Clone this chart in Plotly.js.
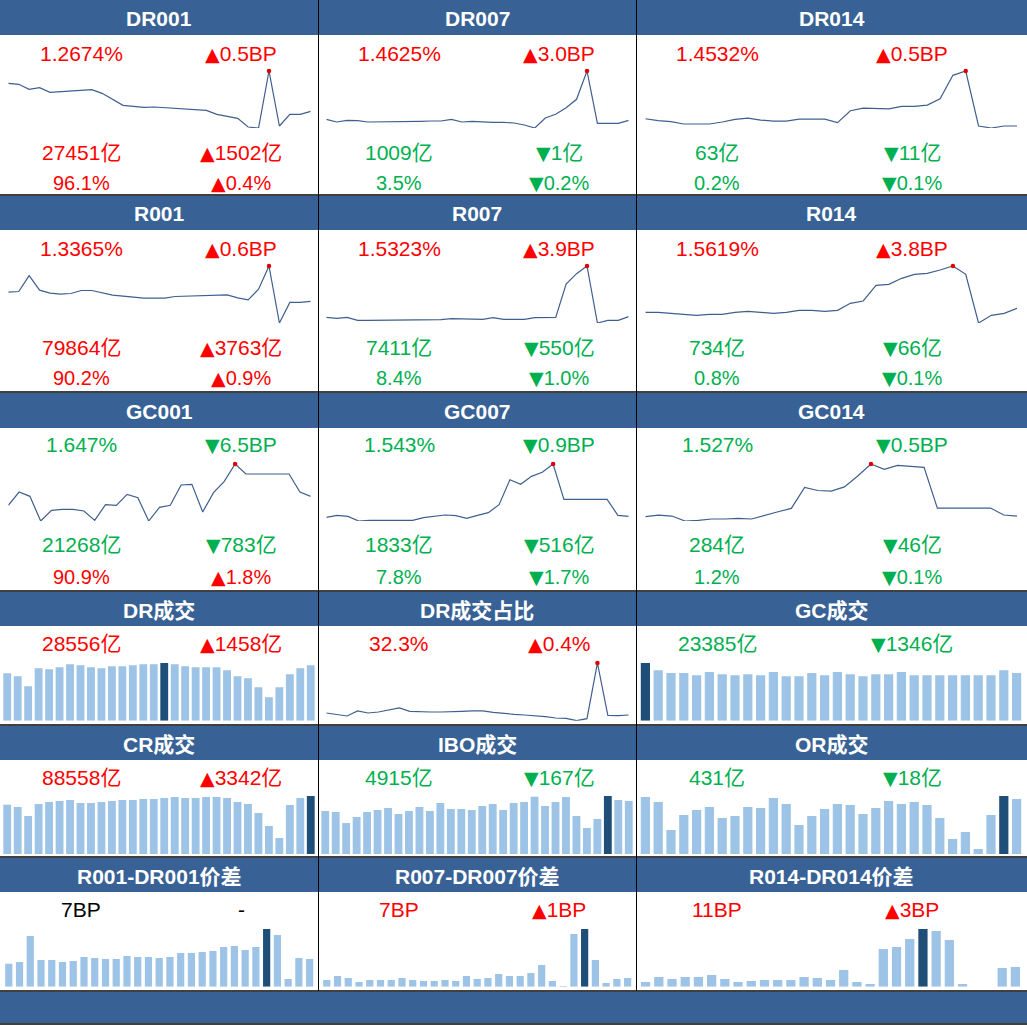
<!DOCTYPE html>
<html><head><meta charset="utf-8">
<script src="https://cdn.plot.ly/plotly-3.0.1.min.js"></script>
<style>html,body{margin:0;padding:0;background:#fff;}#chart{width:1027px;height:1025px;}</style>
</head><body><div id="chart"></div>
<script>
// ---- sparkline readings (relative level) ----
const DR001 = [150,147,132,137,123,125,126,129,131,120,103,84,81,78,79,77,75,73,72,69,57,51,45,19,16,187,22,57,57,66];
const DR007 = [42,34,39,38,34,34,34,34,34,36,37,37,42,34,36,34,33,33,31,25,16,46,57,77,102,187,30,30,30,39];
const DR014 = [43,37,34,27,27,27,33,41,45,39,36,36,42,42,42,31,67,75,75,73,80,80,84,103,174,187,21,15,21,21];
const R001  = [108,110,158,114,105,102,104,113,113,107,99,96,92,90,90,90,95,96,98,100,100,100,91,85,117,187,15,77,77,80];
const R007  = [33,30,33,24,24,24,24,24,26,24,24,26,29,29,27,27,32,27,27,27,32,33,33,133,164,187,16,24,24,35];
const R014  = [48,48,45,42,39,42,42,48,51,48,45,48,54,54,51,54,75,82,129,132,150,162,165,175,187,162,16,39,45,60];
const GC001 = [60,100,87,13,45,48,48,43,15,62,60,93,83,13,54,60,121,123,40,98,132,184,154,154,154,154,154,100,87];
const GC007 = [24,30,27,13,15,15,15,15,15,23,26,31,29,21,30,38,62,137,123,147,159,184,78,78,78,78,78,30,27];
const GC014 = [25,30,27,12,14,18,18,20,18,30,40,50,113,104,102,115,148,184,168,180,178,174,51,51,51,51,51,30,27];
const DR_SHARE = [33,28,24,39,33,36,42,48,38,36,36,36,36,38,39,39,35,31,29,27,25,22,18,17,10,16,182,26,25,27];
// ---- column sparkline readings ----
const DR_VOL  = [143,134,104,158,155,161,170,167,161,158,164,164,167,170,170,174,170,164,161,161,161,152,134,128,101,71,101,140,158,167];
const GC_VOL  = [174,152,144,144,137,147,140,137,140,137,147,134,134,144,137,147,140,134,140,140,147,137,137,137,137,137,137,137,152,144];
const CR_VOL  = [148,141,114,150,156,159,162,153,153,156,159,162,162,165,165,168,171,168,168,171,171,168,156,150,123,84,48,147,168,174];
const IBO_VOL = [129,126,93,111,126,132,138,120,129,141,129,153,135,135,132,144,150,132,153,156,172,144,156,171,114,78,105,174,162,159];
const OR_VOL  = [171,156,72,117,132,141,108,114,141,138,168,150,87,114,135,150,147,120,138,159,150,156,147,108,45,66,15,117,174,165];
const SPREAD001 = [69,74,152,80,80,74,77,89,86,83,83,92,89,89,86,89,101,101,104,107,119,122,110,119,173,155,23,86,83];
const SPREAD007 = [20,32,26,14,20,20,20,26,20,17,17,20,17,32,23,26,38,32,32,41,65,17,2,158,173,80,11,23,26];
const SPREAD014 = [14,29,23,29,29,35,23,14,17,20,20,20,29,26,20,50,14,8,113,119,143,173,167,140,8,0,0,56,59];

// ---- texts ----
const titles = ['DR001','DR007','DR014','R001','R007','R014','GC001','GC007','GC014',
  'DR成交','DR成交占比','GC成交','CR成交','IBO成交','OR成交','R001-DR001价差','R007-DR007价差','R014-DR014价差'];
const rateVals  = ['1.2674%','1.4625%','1.4532%','1.3365%','1.5323%','1.5619%','1.647%','1.543%','1.527%'];
const rateChgs  = ['▲0.5BP','▲3.0BP','▲0.5BP','▲0.6BP','▲3.9BP','▲3.8BP','▼6.5BP','▼0.9BP','▼0.5BP'];
const volVals   = ['27451亿','1009亿','63亿','79864亿','7411亿','734亿','21268亿','1833亿','284亿'];
const volChgs   = ['▲1502亿','▼1亿','▼11亿','▲3763亿','▼550亿','▼66亿','▼783亿','▼516亿','▼46亿'];
const shareVals = ['96.1%','3.5%','0.2%','90.2%','8.4%','0.8%','90.9%','7.8%','1.2%'];
const shareChgs = ['▲0.4%','▼0.2%','▼0.1%','▲0.9%','▼1.0%','▼0.1%','▲1.8%','▼1.7%','▼0.1%'];
const sumVals   = ['28556亿','32.3%','23385亿','88558亿','4915亿','431亿','7BP','7BP','11BP'];
const sumChgs   = ['▲1458亿','▲0.4%','▼1346亿','▲3342亿','▼167亿','▼18亿','-','▲1BP','▲3BP'];

// ---- geometry / style ----
const W = 1027, H = 1025;
const fx = p => p / W, fy = p => 1 - p / H;
const BLUE = '#386296', LINE = '#3F5F8E', LIGHT = '#9DC3E6', DARK = '#1F4E79';
const RED = '#FF0000', GREEN = '#00B050', BLACK = '#000000';
const FONT = 'Liberation Sans, Arial, Noto Sans CJK SC, sans-serif';
const colL = [0, 318, 636];
const txtX = [[81, 241], [399, 559], [717, 912]];
const rows = [
  {hTop: 0,   hBot: 35,  top: 71,  bot: 128, ty: [53, 152, 183]},
  {hTop: 196, hBot: 230, top: 266, bot: 323, ty: [248, 347, 378]},
  {hTop: 393, hBot: 428, top: 464, bot: 521, ty: [445, 544, 577]},
  {hTop: 592, hBot: 626, top: 663, bot: 720.7, ty: [643]},
  {hTop: 726, hBot: 760, top: 796, bot: 854, ty: [777]},
  {hTop: 858, hBot: 892, top: 929, bot: 986.7, ty: [909]}
];
const lineX = [[8.3, 310.7], [326.3, 628.7], [645.3, 1017]];
const bar30X = [[2, 316], [320, 634], [639, 1023]];
const bar29X = [[3.4, 315], [321.4, 633], [639, 1022]];

const panels = [
  {d: DR001, t: 'line'}, {d: DR007, t: 'line'}, {d: DR014, t: 'line'},
  {d: R001, t: 'line'}, {d: R007, t: 'line'}, {d: R014, t: 'line'},
  {d: GC001, t: 'line'}, {d: GC007, t: 'line'}, {d: GC014, t: 'line'},
  {d: DR_VOL, t: 'bar'}, {d: DR_SHARE, t: 'line'}, {d: GC_VOL, t: 'bar'},
  {d: CR_VOL, t: 'bar'}, {d: IBO_VOL, t: 'bar'}, {d: OR_VOL, t: 'bar'},
  {d: SPREAD001, t: 'bar'}, {d: SPREAD007, t: 'bar'}, {d: SPREAD014, t: 'bar'}
];

const traces = [];
const layout = {
  width: W, height: H, margin: {l: 0, r: 0, t: 0, b: 0},
  paper_bgcolor: '#ffffff', plot_bgcolor: 'rgba(0,0,0,0)',
  showlegend: false, shapes: [], annotations: []
};

panels.forEach((p, i) => {
  const k = i + 1, r = Math.floor(i / 3), c = i % 3, row = rows[r];
  const xs = p.d.map((_, j) => j);
  const mx = Math.max(...p.d), mn = Math.min(...p.d);
  const iMax = p.d.indexOf(mx);
  const xa = 'xaxis' + (k === 1 ? '' : k), ya = 'yaxis' + (k === 1 ? '' : k);
  const xr = 'x' + (k === 1 ? '' : k), yr = 'y' + (k === 1 ? '' : k);
  let dom;
  if (p.t === 'line') {
    dom = lineX[c];
    layout[xa] = {domain: [fx(dom[0]), fx(dom[1])], range: [0, p.d.length - 1], visible: false, fixedrange: true};
    layout[ya] = {domain: [fy(row.bot), fy(row.top)], range: [mn, mx], visible: false, fixedrange: true};
    traces.push({type: 'scatter', mode: 'lines', x: xs, y: p.d, xaxis: xr, yaxis: yr,
      line: {color: LINE, width: 1.2}, cliponaxis: false, hoverinfo: 'skip'});
    traces.push({type: 'scatter', mode: 'markers', x: [xs[iMax]], y: [mx], xaxis: xr, yaxis: yr,
      marker: {color: '#E00000', size: 4.5}, cliponaxis: false, hoverinfo: 'skip'});
  } else {
    const n = p.d.length;
    dom = n === 30 ? bar30X[c] : bar29X[c];
    const gap = n === 30 ? (c === 2 ? 0.28 : 0.25) : (c === 2 ? 0.3 : 0.33);
    layout[xa] = {domain: [fx(dom[0]), fx(dom[1])], range: [-0.5, n - 0.5], visible: false, fixedrange: true};
    layout[ya] = {domain: [fy(row.bot), fy(row.top)], range: [0, mx], visible: false, fixedrange: true};
    traces.push({type: 'bar', x: xs, y: p.d, xaxis: xr, yaxis: yr, width: 1 - gap,
      marker: {color: p.d.map((v, j) => j === iMax ? DARK : LIGHT), line: {width: 0}},
      cliponaxis: false, hoverinfo: 'skip'});
  }
});

// header bands
rows.forEach(r => {
  layout.shapes.push({type: 'rect', xref: 'paper', yref: 'paper', x0: 0, x1: 1,
    y0: fy(r.hBot), y1: fy(r.hTop), fillcolor: BLUE, line: {width: 0}, layer: 'below'});
});
layout.shapes.push({type: 'rect', xref: 'paper', yref: 'paper', x0: 0, x1: 1,
  y0: fy(1023), y1: fy(992), fillcolor: BLUE, line: {width: 0}, layer: 'below'});
// grid lines
[318.5, 636.5].forEach(x => layout.shapes.push({type: 'line', xref: 'paper', yref: 'paper',
  x0: fx(x), x1: fx(x), y0: fy(0), y1: fy(991), line: {color: BLACK, width: 1}}));
[195, 392, 591, 725, 857, 991, 1024].forEach(y => layout.shapes.push({type: 'line', xref: 'paper', yref: 'paper',
  x0: 0, x1: 1, y0: fy(y), y1: fy(y), line: {color: BLACK, width: 1.6}}));

const colorOf = s => s.startsWith('▲') ? RED : (s.startsWith('▼') ? GREEN : BLACK);
// enlarge the arrow glyph like the original
const fmt = s => (s.startsWith('▲') || s.startsWith('▼'))
  ? '<span style="font-family:DejaVu Sans;font-size:19px">' + s[0] + '</span>' + s.slice(1) : s;
const addText = (text, x, y, color, size, bold) => layout.annotations.push({
  text: bold ? '<b>' + text + '</b>' : fmt(text), xref: 'paper', yref: 'paper', x: fx(x), y: fy(y),
  xanchor: 'center', yanchor: 'middle',
  showarrow: false, font: {family: FONT, size: size, color: color}});

titles.forEach((t, i) => {
  const r = Math.floor(i / 3), c = i % 3;
  const cx = c === 2 ? 831.5 : colL[c] + 159;
  addText(t, cx, (rows[r].hTop + rows[r].hBot) / 2 + 1, '#FFFFFF', 21, true);
});

for (let i = 0; i < 9; i++) {
  const r = Math.floor(i / 3), c = i % 3, ty = rows[r].ty, tx = txtX[c];
  addText(rateVals[i], tx[0], ty[0], colorOf(rateChgs[i]), 21);
  addText(rateChgs[i], tx[1], ty[0], colorOf(rateChgs[i]), 21);
  addText(volVals[i], tx[0], ty[1], colorOf(volChgs[i]), 21);
  addText(volChgs[i], tx[1], ty[1], colorOf(volChgs[i]), 21);
  addText(shareVals[i], tx[0], ty[2], colorOf(shareChgs[i]), 20);
  addText(shareChgs[i], tx[1], ty[2], colorOf(shareChgs[i]), 20);
}
for (let i = 0; i < 9; i++) {
  const r = 3 + Math.floor(i / 3), c = i % 3, ty = rows[r].ty, tx = txtX[c];
  addText(sumVals[i], tx[0], ty[0], colorOf(sumChgs[i]), 21);
  addText(sumChgs[i], tx[1], ty[0], colorOf(sumChgs[i]), 21);
}

Plotly.newPlot('chart', traces, layout, {staticPlot: true, displayModeBar: false});
</script>
</body></html>
